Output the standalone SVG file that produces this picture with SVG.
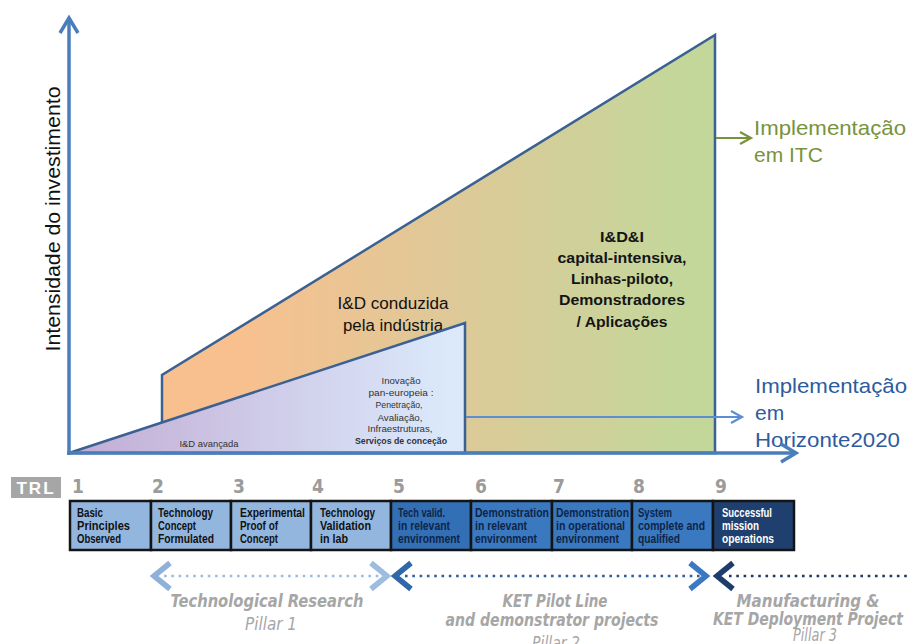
<svg xmlns="http://www.w3.org/2000/svg" width="909" height="644" viewBox="0 0 909 644">
  <style>
    .sans { font-family: "Liberation Sans", Arial, sans-serif; }
    .narrow { font-family: "Liberation Sans Narrow", "DejaVu Sans Condensed", "Liberation Sans", sans-serif; }
    .shape { stroke: #3b6193; stroke-width: 2.5; stroke-linejoin: miter; }
    .axis { stroke: #4a7ebb; stroke-width: 3.5; fill: none; }
    .cell { stroke: #141414; stroke-width: 2.5; }
    .cell-txt { font-size: 12px; font-weight: bold; }
    .digit { font-size: 19px; font-weight: bold; fill: #9b9b9b; }
    .pillar { font-size: 17px; font-weight: bold; font-style: italic; fill: #a6a6a6; }
    .pillar-sub { font-size: 17px; font-style: italic; fill: #a6a6a6; }
    .chev { fill: none; stroke-width: 5.5; stroke-linejoin: miter; stroke-linecap: butt; }
    .dots { fill: none; stroke-width: 2.6; stroke-dasharray: 2.6 4.7; }
    .small { font-size: 9.5px; fill: #333333; text-anchor: middle; }
  </style>
  <defs>
    <linearGradient id="grad-industry" gradientUnits="userSpaceOnUse" x1="240" y1="0" x2="680" y2="0">
      <stop offset="0" stop-color="#f8c08f"/>
      <stop offset="0.5" stop-color="#ddc998"/>
      <stop offset="1" stop-color="#c4d79b"/>
    </linearGradient>
    <linearGradient id="grad-advanced" gradientUnits="userSpaceOnUse" x1="90" y1="0" x2="450" y2="0">
      <stop offset="0" stop-color="#c3afd6"/>
      <stop offset="1" stop-color="#dbe9fb"/>
    </linearGradient>
    <marker id="head-axis" markerUnits="userSpaceOnUse" markerWidth="22" markerHeight="22" refX="17" refY="10" orient="auto" overflow="visible">
      <path d="M2,1 L17,10 L2,19" fill="none" stroke="#4a7ebb" stroke-width="3.5"/>
    </marker>
    <marker id="head-green" markerUnits="userSpaceOnUse" markerWidth="16" markerHeight="16" refX="12" refY="7" orient="auto" overflow="visible">
      <path d="M1,1 L12,7 L1,13" fill="none" stroke="#77933c" stroke-width="2.2"/>
    </marker>
    <marker id="head-blue" markerUnits="userSpaceOnUse" markerWidth="16" markerHeight="16" refX="12" refY="7" orient="auto" overflow="visible">
      <path d="M1,1 L12,7 L1,13" fill="none" stroke="#5b8fd2" stroke-width="2.2"/>
    </marker>
  </defs>

  <rect width="909" height="644" fill="#ffffff"/>

  <!-- Industry-led R&D and capital-intensive zone -->
  <g id="node-industry">
    <polygon class="shape" fill="url(#grad-industry)" points="162,453 162,375 715,35 715,453"/>
    <text class="sans" x="393" y="309" font-size="16" text-anchor="middle" fill="#111" textLength="111" lengthAdjust="spacingAndGlyphs">I&amp;D conduzida</text>
    <text class="sans" x="393" y="331" font-size="16" text-anchor="middle" fill="#111" textLength="100" lengthAdjust="spacingAndGlyphs">pela indústria</text>
  </g>

  <g id="node-capital">
    <g class="sans" font-size="15" font-weight="bold" fill="#141414" text-anchor="middle">
      <text x="622" y="242" textLength="44" lengthAdjust="spacingAndGlyphs">I&amp;D&amp;I</text>
      <text x="622" y="263" textLength="129" lengthAdjust="spacingAndGlyphs">capital-intensiva,</text>
      <text x="622" y="284" textLength="102" lengthAdjust="spacingAndGlyphs">Linhas-piloto,</text>
      <text x="622" y="305" textLength="126" lengthAdjust="spacingAndGlyphs">Demonstradores</text>
      <text x="622" y="327" textLength="91" lengthAdjust="spacingAndGlyphs">/ Aplicações</text>
    </g>
  </g>

  <!-- Advanced R&D wedge -->
  <g id="node-advanced">
    <polygon class="shape" fill="url(#grad-advanced)" points="69,453 465,323 465,453"/>
    <text class="sans small" x="209" y="447" textLength="59" lengthAdjust="spacingAndGlyphs">I&amp;D avançada</text>
    <text class="sans small" x="401" y="384" textLength="39" lengthAdjust="spacingAndGlyphs">Inovação</text>
    <text class="sans small" x="401" y="396" textLength="65" lengthAdjust="spacingAndGlyphs">pan-europeia :</text>
    <text class="sans small" x="399" y="408" textLength="47" lengthAdjust="spacingAndGlyphs">Penetração,</text>
    <text class="sans small" x="400" y="421" textLength="45" lengthAdjust="spacingAndGlyphs">Avaliação,</text>
    <text class="sans small" x="400" y="432" textLength="65" lengthAdjust="spacingAndGlyphs">Infraestruturas,</text>
    <text class="sans small" x="401" y="444" font-weight="bold" fill="#1a1a1a" textLength="92" lengthAdjust="spacingAndGlyphs">Serviços de conceção</text>
  </g>

  <!-- Outcome labels -->
  <g id="node-itc">
    <text class="sans" x="754" y="135" font-size="21" fill="#77933c" textLength="152" lengthAdjust="spacingAndGlyphs">Implementação</text>
    <text class="sans" x="754" y="162" font-size="21" fill="#77933c">em ITC</text>
  </g>
  <g id="node-h2020">
    <text class="sans" x="755" y="393" font-size="21" fill="#2d5b9e" textLength="152" lengthAdjust="spacingAndGlyphs">Implementação</text>
    <text class="sans" x="755" y="420" font-size="21" fill="#2d5b9e">em</text>
    <text class="sans" x="755" y="447" font-size="21" fill="#2d5b9e" textLength="145" lengthAdjust="spacingAndGlyphs">Horizonte2020</text>
  </g>

  <g id="node-ylabel">
    <text class="sans" transform="translate(60,219) rotate(-90)" font-size="20" text-anchor="middle" fill="#111" textLength="265" lengthAdjust="spacingAndGlyphs">Intensidade do investimento</text>
  </g>

  <!-- Axes and arrows -->
  <g id="connectors">
    <line class="axis" x1="69" y1="455" x2="69" y2="18" marker-end="url(#head-axis)"/>
    <line class="axis" x1="67" y1="453" x2="796" y2="453" marker-end="url(#head-axis)"/>
    <line x1="716" y1="138" x2="751" y2="138" stroke="#77933c" stroke-width="2.2" marker-end="url(#head-green)"/>
    <line x1="466" y1="417" x2="742" y2="417" stroke="#5b8fd2" stroke-width="2.2" marker-end="url(#head-blue)"/>
  </g>

  <!-- TRL scale -->
  <g id="node-trl-label">
    <rect x="11" y="477" width="50" height="21" fill="#a6a6a6"/>
    <text class="sans" x="36" y="494" font-size="17" font-weight="bold" fill="#ffffff" text-anchor="middle" letter-spacing="2">TRL</text>
  </g>
  <g id="trl-digits" class="narrow digit">
    <text x="72" y="493">1</text>
    <text x="152" y="493">2</text>
    <text x="233" y="493">3</text>
    <text x="312" y="493">4</text>
    <text x="393" y="493">5</text>
    <text x="475" y="493">6</text>
    <text x="553" y="493">7</text>
    <text x="633" y="493">8</text>
    <text x="715" y="493">9</text>
  </g>

  <g id="trl-1" class="sans cell-txt" fill="#111">
    <rect class="cell" x="70" y="501" width="81" height="49" fill="#93b6df"/>
    <text x="77" y="517" textLength="26" lengthAdjust="spacingAndGlyphs">Basic</text>
    <text x="77" y="530" textLength="53" lengthAdjust="spacingAndGlyphs">Principles</text>
    <text x="77" y="543" textLength="44" lengthAdjust="spacingAndGlyphs">Observed</text>
  </g>
  <g id="trl-2" class="sans cell-txt" fill="#111">
    <rect class="cell" x="151" y="501" width="80" height="49" fill="#93b6df"/>
    <text x="158" y="517" textLength="55" lengthAdjust="spacingAndGlyphs">Technology</text>
    <text x="158" y="530" textLength="38" lengthAdjust="spacingAndGlyphs">Concept</text>
    <text x="158" y="543" textLength="56" lengthAdjust="spacingAndGlyphs">Formulated</text>
  </g>
  <g id="trl-3" class="sans cell-txt" fill="#111">
    <rect class="cell" x="231" y="501" width="80" height="49" fill="#93b6df"/>
    <text x="240" y="517" textLength="65" lengthAdjust="spacingAndGlyphs">Experimental</text>
    <text x="240" y="530" textLength="38" lengthAdjust="spacingAndGlyphs">Proof of</text>
    <text x="240" y="543" textLength="38" lengthAdjust="spacingAndGlyphs">Concept</text>
  </g>
  <g id="trl-4" class="sans cell-txt" fill="#111">
    <rect class="cell" x="311" y="501" width="80" height="49" fill="#93b6df"/>
    <text x="320" y="517" textLength="55" lengthAdjust="spacingAndGlyphs">Technology</text>
    <text x="320" y="530" textLength="51" lengthAdjust="spacingAndGlyphs">Validation</text>
    <text x="320" y="543" textLength="28" lengthAdjust="spacingAndGlyphs">in lab</text>
  </g>
  <g id="trl-5" class="sans cell-txt" fill="#0e2547">
    <rect class="cell" x="391" y="501" width="80" height="49" fill="#336fb5"/>
    <text x="398" y="517" textLength="47" lengthAdjust="spacingAndGlyphs">Tech valid.</text>
    <text x="398" y="530" textLength="52" lengthAdjust="spacingAndGlyphs">in relevant</text>
    <text x="398" y="543" textLength="62" lengthAdjust="spacingAndGlyphs">environment</text>
  </g>
  <g id="trl-6" class="sans cell-txt" fill="#0e2547">
    <rect class="cell" x="471" y="501" width="81" height="49" fill="#3a78c0"/>
    <text x="475" y="517" textLength="74" lengthAdjust="spacingAndGlyphs">Demonstration</text>
    <text x="475" y="530" textLength="52" lengthAdjust="spacingAndGlyphs">in relevant</text>
    <text x="475" y="543" textLength="62" lengthAdjust="spacingAndGlyphs">environment</text>
  </g>
  <g id="trl-7" class="sans cell-txt" fill="#0e2547">
    <rect class="cell" x="552" y="501" width="80" height="49" fill="#3a78c0"/>
    <text x="556" y="517" textLength="73" lengthAdjust="spacingAndGlyphs">Demonstration</text>
    <text x="556" y="530" textLength="69" lengthAdjust="spacingAndGlyphs">in operational</text>
    <text x="556" y="543" textLength="63" lengthAdjust="spacingAndGlyphs">environment</text>
  </g>
  <g id="trl-8" class="sans cell-txt" fill="#0e2547">
    <rect class="cell" x="632" y="501" width="81" height="49" fill="#3a78c0"/>
    <text x="638" y="517" textLength="34" lengthAdjust="spacingAndGlyphs">System</text>
    <text x="638" y="530" textLength="67" lengthAdjust="spacingAndGlyphs">complete and</text>
    <text x="638" y="543" textLength="42" lengthAdjust="spacingAndGlyphs">qualified</text>
  </g>
  <g id="trl-9" class="sans cell-txt" fill="#ffffff">
    <rect class="cell" x="713" y="501" width="81" height="49" fill="#1f3f6e"/>
    <text x="722" y="517" textLength="50" lengthAdjust="spacingAndGlyphs">Successful</text>
    <text x="722" y="530" textLength="37" lengthAdjust="spacingAndGlyphs">mission</text>
    <text x="722" y="543" textLength="52" lengthAdjust="spacingAndGlyphs">operations</text>
  </g>

  <!-- Pillar ranges -->
  <g id="pillar-arrows">
    <line class="dots" x1="164" y1="576" x2="380" y2="576" stroke="#9dbbe0"/>
    <polyline class="chev" points="170,563 154,576 170,589" stroke="#8fb0d8"/>
    <polyline class="chev" points="371,563 387,576 371,589" stroke="#9dbde0"/>
    <line class="dots" x1="405" y1="576" x2="700" y2="576" stroke="#2e5e9e"/>
    <polyline class="chev" points="411,563 395,576 411,589" stroke="#2f67aa"/>
    <polyline class="chev" points="690,563 706,576 690,589" stroke="#3b78c2"/>
    <line class="dots" x1="729" y1="576" x2="909" y2="576" stroke="#1f3864"/>
    <polyline class="chev" points="733,563 717,576 733,589" stroke="#1f3d6b"/>
  </g>

  <g id="pillar-1" class="narrow" text-anchor="middle">
    <text class="pillar" x="267" y="607" textLength="193" lengthAdjust="spacingAndGlyphs">Technological Research</text>
    <text class="pillar-sub" x="271" y="630" textLength="52" lengthAdjust="spacingAndGlyphs">Pillar 1</text>
  </g>
  <g id="pillar-2" class="narrow" text-anchor="middle">
    <text class="pillar" x="555" y="607" textLength="105" lengthAdjust="spacingAndGlyphs">KET Pilot Line</text>
    <text class="pillar" x="552" y="626" textLength="213" lengthAdjust="spacingAndGlyphs">and demonstrator projects</text>
    <text class="pillar-sub" x="556" y="649" textLength="48" lengthAdjust="spacingAndGlyphs">Pillar 2</text>
  </g>
  <g id="pillar-3" class="narrow" text-anchor="middle">
    <text class="pillar" x="808" y="607" font-size="16" textLength="143" lengthAdjust="spacingAndGlyphs">Manufacturing &amp;</text>
    <text class="pillar" x="808" y="625" font-size="16" textLength="190" lengthAdjust="spacingAndGlyphs">KET Deployment Project</text>
    <text class="pillar-sub" x="815" y="641" font-size="15" textLength="44" lengthAdjust="spacingAndGlyphs">Pillar 3</text>
  </g>
</svg>
